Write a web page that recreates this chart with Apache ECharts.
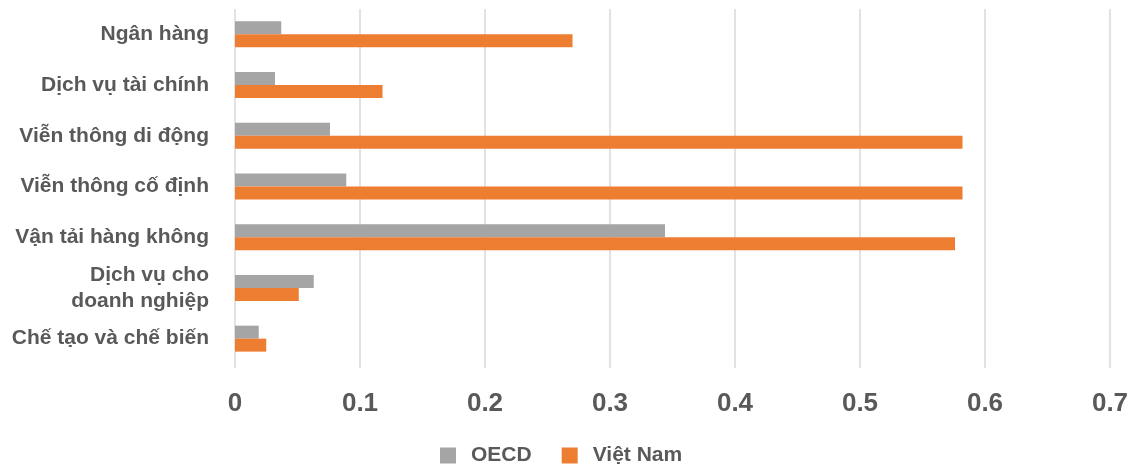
<!DOCTYPE html>
<html>
<head>
<meta charset="utf-8">
<script src="https://cdn.jsdelivr.net/npm/echarts@6/dist/echarts.min.js"></script>
<style>
  html, body { margin: 0; padding: 0; background: #ffffff; }
  #chart { width: 1133px; height: 466px; }
</style>
</head>
<body>
<div id="chart"></div>
<script>
// Sectors, listed top to bottom
const categories = [
  'Ngân hàng',
  'Dịch vụ tài chính',
  'Viễn thông di động',
  'Viễn thông cố định',
  'Vận tải hàng không',
  'Dịch vụ cho\ndoanh nghiệp',
  'Chế tạo và chế biến'
];

// Index values per sector
const oecdValues = [0.037, 0.032, 0.076, 0.089, 0.344, 0.063, 0.019];
const vietnamValues = [0.270, 0.118, 0.582, 0.582, 0.576, 0.051, 0.025];

const seriesNames = ['OECD', 'Việt Nam'];
const xTicks = [0, 0.1, 0.2, 0.3, 0.4, 0.5, 0.6, 0.7];

const chart = echarts.init(document.getElementById('chart'));

const textGray = '#595959';
const font = '"Liberation Sans", Arial, sans-serif';

chart.setOption({
  backgroundColor: '#ffffff',
  animation: false,
  grid: { left: 235, right: 23, top: 9, bottom: 102, containLabel: false },
  legend: {
    left: 435,
    top: 440,
    itemWidth: 16,
    itemHeight: 16,
    itemGap: 30,
    icon: 'rect',
    data: seriesNames,
    textStyle: {
      color: textGray,
      fontFamily: font,
      fontWeight: 'bold',
      fontSize: 21,
      padding: [0, 0, 0, 10]
    }
  },
  xAxis: {
    type: 'value',
    min: xTicks[0],
    max: xTicks[xTicks.length - 1],
    interval: 0.1,
    axisLine: { show: false },
    axisTick: { show: true, length: 4, lineStyle: { color: '#D9D9D9', width: 1.5 } },
    splitLine: { show: true, lineStyle: { color: '#D9D9D9', width: 1.5 } },
    axisLabel: {
      margin: 27,
      color: textGray,
      fontFamily: font,
      fontWeight: 'bold',
      fontSize: 26,
      formatter: v => String(Math.round(v * 10) / 10)
    }
  },
  yAxis: {
    type: 'category',
    inverse: true,
    data: categories,
    axisLine: { show: false },
    axisTick: { show: false },
    axisLabel: {
      margin: 26,
      color: textGray,
      fontFamily: font,
      fontWeight: 'bold',
      fontSize: 21,
      lineHeight: 26,
      align: 'right'
    }
  },
  series: [
    {
      name: seriesNames[0],
      type: 'bar',
      data: oecdValues,
      barWidth: 13,
      barGap: '0%',
      itemStyle: { color: '#A5A5A5' }
    },
    {
      name: seriesNames[1],
      type: 'bar',
      data: vietnamValues,
      barWidth: 13,
      barGap: '0%',
      itemStyle: { color: '#ED7D31' }
    }
  ]
});
</script>
</body>
</html>
